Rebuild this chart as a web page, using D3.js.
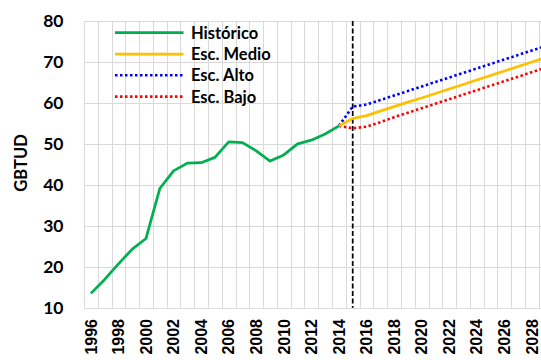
<!DOCTYPE html>
<html><head><meta charset="utf-8">
<script src="https://cdn.jsdelivr.net/npm/d3@7"></script>
<style>
html,body{margin:0;padding:0;background:#fff;overflow:hidden}
svg{display:block}
.xlab text{font-family:"Liberation Sans",Arial,sans-serif;font-weight:bold;font-size:16px;fill:#000}
</style></head>
<body>
<svg id="chart" width="541" height="360"></svg>
<script>
const years = d3.range(1996, 2031).map(String);
const histYears = ["1996","1997","1998","1999","2000","2001","2002","2003","2004","2005","2006","2007","2008","2009","2010","2011","2012","2013","2014"];
const historico = [13.5,16.9,20.7,24.3,26.9,39.1,43.4,45.3,45.4,46.7,50.5,50.3,48.3,45.8,47.3,50.0,50.9,52.4,54.4];
const escYears = ["2014","2015","2016","2017","2018","2019","2020","2021","2022","2023","2024","2025","2026","2027","2028","2029","2030"];
const escMedio = [54.4,56.2,56.9,58.0,59.1,60.2,61.2,62.3,63.4,64.5,65.6,66.7,67.8,68.9,70.0,71.1,72.2];
const escAlto  = [54.4,59.1,59.6,60.7,61.8,62.9,64.0,65.1,66.2,67.3,68.4,69.5,70.6,71.7,72.8,73.9,75.0];
const escBajo  = [54.4,53.8,54.2,55.3,56.5,57.6,58.7,59.8,60.9,62.0,63.1,64.2,65.3,66.4,67.5,68.6,69.7];
const yTicks = [10,20,30,40,50,60,70,80];
const divider = "2015";
const yTitle = "GBTUD";
const legendItems = [
  {name:"Histórico", color:"#00B050", dash:null},
  {name:"Esc. Medio", color:"#FFC000", dash:null},
  {name:"Esc. Alto", color:"#0000FF", dash:"2.5,2.5"},
  {name:"Esc. Bajo", color:"#FF0000", dash:"2.5,2.5"}
];

const svg = d3.select("#chart");
const step = 13.78;
const x = d3.scaleBand().domain(years).range([84, 84 + years.length*step]);
const cx = d => x(d) + x.bandwidth()/2;
const y = d3.scaleLinear().domain([10, 80]).range([307.7, 21]);

const grid = svg.append("g");
grid.selectAll("line.h").data(yTicks).join("line")
  .attr("x1", 84).attr("x2", x.range()[1])
  .attr("y1", d => Math.round(y(d))+0.5).attr("y2", d => Math.round(y(d))+0.5)
  .attr("stroke", "#d9d9d9").attr("stroke-width", 1);
grid.selectAll("line.v").data(years.concat(["end"])).join("line")
  .attr("x1", (d,i) => Math.round(84 + i*step)+0.5).attr("x2", (d,i) => Math.round(84 + i*step)+0.5)
  .attr("y1", y(80)).attr("y2", y(10))
  .attr("stroke", "#d9d9d9").attr("stroke-width", 1);

const yAxis = d3.axisLeft(y).tickValues(yTicks).tickSize(0).tickPadding(0);
const ya = svg.append("g").attr("transform", "translate(63.5,0)").call(yAxis);
ya.select(".domain").remove();
ya.selectAll("text").style("font-family", "Lato, 'Open Sans', sans-serif")
  .style("font-weight", "bold").style("font-size", "17.5px").style("fill", "#000");

const xAxis = d3.axisBottom(x).tickValues(years.filter((d,i) => i % 2 === 0)).tickSize(0).tickPadding(0);
const xa = svg.append("g").attr("class", "xlab").attr("transform", "translate(0,319)").call(xAxis);
xa.attr("font-size", null).attr("font-family", null);
xa.select(".domain").remove();
xa.selectAll("text")
  .attr("transform", "rotate(-90)")
  .attr("text-anchor", "end").attr("dy", "0.36em").attr("x", 0).attr("y", 0);

svg.append("text").attr("transform", "translate(26.5,163) rotate(-90)")
  .attr("text-anchor", "middle")
  .style("font-family", "Lato, 'Open Sans', sans-serif")
  .style("font-weight", "bold").style("font-size", "16.5px").text(yTitle);

svg.append("line").attr("x1", cx(divider)).attr("x2", cx(divider))
  .attr("y1", y(80)).attr("y2", y(10))
  .attr("stroke", "#000").attr("stroke-width", 1.75).attr("stroke-dasharray", "5,2.5");

const line = d3.line().x(d => cx(d[0])).y(d => y(d[1]));
const plots = svg.append("g");
function draw(xs, vs, color, dash, w) {
  const p = plots.append("path").datum(xs.map((d,i) => [d, vs[i]]))
    .attr("d", line).attr("fill", "none").attr("stroke", color)
    .attr("stroke-width", w).attr("stroke-linejoin", "round");
  if (dash) p.attr("stroke-dasharray", dash);
}
draw(escBajo.length ? escYears : [], escBajo, "#FF0000", "2.5,2.5", 2.6);
draw(escYears, escAlto, "#0000FF", "2.5,2.5", 2.6);
draw(escYears, escMedio, "#FFC000", null, 2.75);
draw(histYears, historico, "#00B050", null, 2.75);

const lg = svg.append("g");
legendItems.forEach((it, i) => {
  const ly = 32.7 + i*21.3;
  const l = lg.append("line").attr("x1", 115).attr("x2", 183.5).attr("y1", ly).attr("y2", ly)
    .attr("stroke", it.color).attr("stroke-width", it.dash ? 2.6 : 2.75);
  if (it.dash) l.attr("stroke-dasharray", it.dash);
  lg.append("text").attr("x", 191).attr("y", ly).attr("dy", "0.36em")
    .style("font-family", "Lato, 'Open Sans', sans-serif")
    .style("font-weight", "bold").style("font-size", "16.5px").style("fill", "#000")
    .text(it.name);
});
</script>
</body></html>
